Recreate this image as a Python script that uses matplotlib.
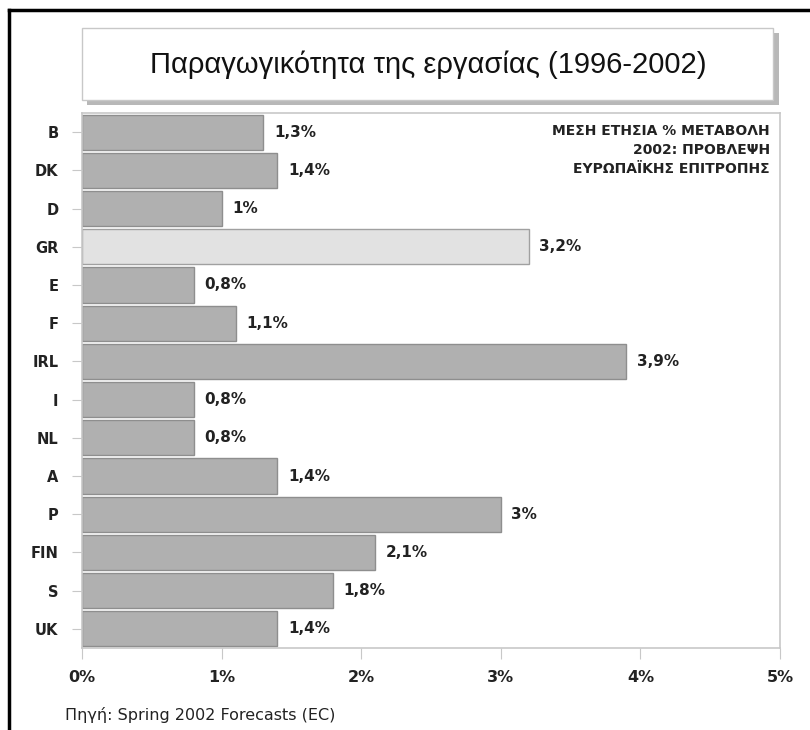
import matplotlib
matplotlib.use('Agg')
import matplotlib.pyplot as plt
from matplotlib.patches import Rectangle
from matplotlib.lines import Line2D

# data
countries = ['B', 'DK', 'D', 'GR', 'E', 'F', 'IRL', 'I', 'NL', 'A', 'P', 'FIN', 'S', 'UK']
values = [1.3, 1.4, 1.0, 3.2, 0.8, 1.1, 3.9, 0.8, 0.8, 1.4, 3.0, 2.1, 1.8, 1.4]
value_labels = ['1,3%', '1,4%', '1%', '3,2%', '0,8%', '1,1%', '3,9%', '0,8%', '0,8%',
                '1,4%', '3%', '2,1%', '1,8%', '1,4%']
xticks = [0, 1, 2, 3, 4, 5]
xtick_labels = ['0%', '1%', '2%', '3%', '4%', '5%']

title = 'Παραγωγικότητα της εργασίας (1996-2002)'
note = 'ΜΕΣΗ ΕΤΗΣΙΑ % ΜΕΤΑΒΟΛΗ\n2002: ΠΡΟΒΛΕΨΗ\nΕΥΡΩΠΑΪΚΗΣ ΕΠΙΤΡΟΠΗΣ'
source = 'Πηγή: Spring 2002 Forecasts (EC)'

plt.rcParams['font.family'] = ['DejaVu Sans']

W, H = 810, 730
fig = plt.figure(figsize=(W / 100, H / 100), dpi=100)


def fx(px):
    return px / W


def fy(py):
    return 1 - py / H


# outer black frame (cropped at right/bottom)
fig.add_artist(Line2D([fx(9), 1], [fy(10), fy(10)], color='black', lw=2.5))
fig.add_artist(Line2D([fx(9), fx(9)], [fy(10), 0], color='black', lw=2.5))

# title box with shadow
fig.add_artist(Rectangle((fx(87), fy(105)), fx(692), 72 / H, facecolor='#b8b8b8',
                         edgecolor='none', transform=fig.transFigure))
fig.add_artist(Rectangle((fx(82), fy(100)), fx(691), 72 / H, facecolor='white',
                         edgecolor='#c8c8c8', lw=1, transform=fig.transFigure))
fig.text(fx(428), fy(65), title, ha='center', va='center', fontsize=21,
         family=['Liberation Sans', 'DejaVu Sans'], color='#111111')

ax = fig.add_axes([fx(82), fy(648), fx(780) - fx(82), (648 - 113) / H])
colors = ['#e2e2e2' if c == 'GR' else '#b0b0b0' for c in countries]
edges = ['#a0a0a0' if c == 'GR' else '#8e8e8e' for c in countries]
ypos = list(range(len(countries)))
ax.barh(ypos, values, height=0.92, color=colors, edgecolor=edges, linewidth=1)
for y, v, lab in zip(ypos, values, value_labels):
    ax.text(v + 0.075, y, lab, ha='left', va='center', fontsize=11,
            fontweight='bold', color='#222222')

ax.set_xlim(0, 5)
ax.set_ylim(len(countries) - 0.5, -0.5)
ax.set_yticks(ypos)
ax.set_yticklabels(countries, fontsize=10.5, fontweight='bold', color='#222222')
ax.set_xticks(xticks)
ax.set_xticklabels(xtick_labels, fontsize=11.5, fontweight='bold', color='#222222')
ax.tick_params(axis='y', length=7, color='#c8c8c8', pad=10)
ax.tick_params(axis='x', length=8, color='#c8c8c8', pad=8)
for s in ax.spines.values():
    s.set_color('#c8c8c8')
    s.set_linewidth(1.2)

fig.text(fx(770), fy(124), note, ha='right', va='top', fontsize=10,
         fontweight='bold', color='#222222', linespacing=1.45)
fig.text(fx(65), fy(715), source, ha='left', va='center', fontsize=11.5,
         color='#222222')

fig.savefig('out.png', dpi=100)
